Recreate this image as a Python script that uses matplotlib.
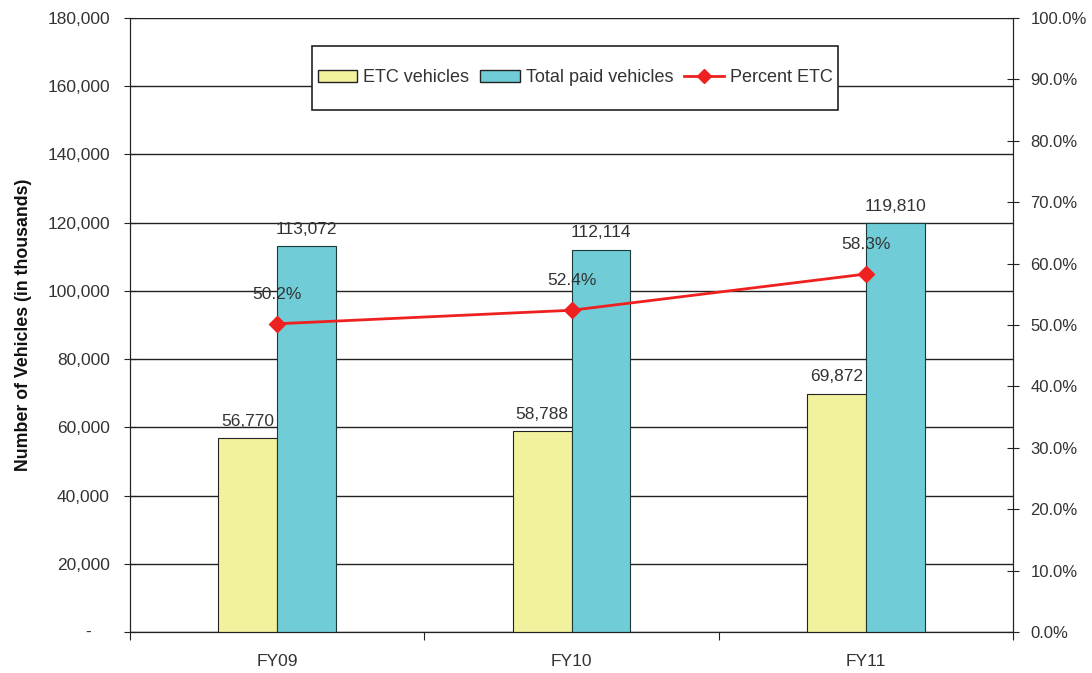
import matplotlib
matplotlib.use("Agg")
import matplotlib.pyplot as plt
from matplotlib.ticker import FuncFormatter, FixedLocator, NullFormatter
from matplotlib.patches import Patch, Rectangle
from matplotlib.lines import Line2D
import numpy as np

plt.rcParams['font.family'] = ['Liberation Sans', 'DejaVu Sans']

categories = ["FY09", "FY10", "FY11"]
etc_vehicles = [56770, 58788, 69872]
total_paid = [113072, 112114, 119810]
percent_etc = [50.2, 52.4, 58.3]

c_etc = "#F2F29E"
c_total = "#70CCD6"
c_line = "#EE2020"
txt = "#333333"

W, H = 1092, 673
fig = plt.figure(figsize=(W/100, H/100), dpi=100)
ax = fig.add_axes([130/W, 1-632/H, (1013-130)/W, (632-18)/H])
ax2 = ax.twinx()

x = np.arange(len(categories))
w = 0.2
b1 = ax.bar(x - w/2, etc_vehicles, w, color=c_etc, edgecolor="#222222", linewidth=0.8, zorder=3)
b2 = ax.bar(x + w/2, total_paid, w, color=c_total, edgecolor="#1a3a3a", linewidth=0.8, zorder=3)

for rect, v in list(zip(b1, etc_vehicles)) + list(zip(b2, total_paid)):
    ax.annotate(f"{v:,}", (rect.get_x() + rect.get_width()/2, v),
                xytext=(0, 7), textcoords="offset points", ha="center", va="bottom",
                fontsize=12.5, color=txt, zorder=4)

ax.set_xlim(-0.5, 2.5)
ax.set_ylim(0, 180000)
ax.set_yticks(np.arange(0, 180001, 20000))
ax.yaxis.set_major_formatter(FuncFormatter(lambda v, p: "" if v == 0 else f"{int(v):,}"))
ax.grid(axis="y", color="#222222", linewidth=1.0, zorder=0)
ax.set_axisbelow(True)
# accounting-style dash for zero
ax.text(88/W, 1-632/H, "-", transform=fig.transFigure, ha="center", va="center",
        fontsize=12.5, color=txt)

ax.xaxis.set_major_locator(FixedLocator([-0.5, 0.5, 1.5, 2.5]))
ax.xaxis.set_major_formatter(NullFormatter())
ax.set_xticks(list(x), minor=True)
ax.set_xticklabels(categories, minor=True)
ax.tick_params(axis="x", which="minor", length=0, pad=16, labelsize=12.5, labelcolor=txt)
ax.tick_params(axis="x", which="major", length=6, direction="out", color="#222222")
ax.tick_params(axis="y", direction="inout", length=9, labelsize=12.5, labelcolor=txt, pad=10, color="#222222")

for a in (ax, ax2):
    a.spines["top"].set_visible(False)
    for s in ["left", "bottom", "right"]:
        a.spines[s].set_color("#222222")

ax.set_ylabel("Number of Vehicles (in thousands)", fontsize=12.8, fontweight="bold",
              color="#111111", labelpad=11)

ax2.plot(x, percent_etc, color=c_line, linewidth=2, marker="D", markersize=8, zorder=5)
for xi, p in zip(x, percent_etc):
    ax2.annotate(f"{p:.1f}%", (xi, p), xytext=(0, 16), textcoords="offset points",
                 ha="center", va="bottom", fontsize=12.5, color=txt)
ax2.set_ylim(0, 100)
ax2.set_yticks(np.arange(0, 101, 10))
ax2.yaxis.set_major_formatter(FuncFormatter(lambda v, p: f"{v:.1f}%"))
ax2.tick_params(axis="y", direction="inout", length=9, labelsize=12, labelcolor=txt, pad=8, color="#222222")

# legend frame
frame = Rectangle((312/W, 1-110/H), (838-312)/W, 64/H, transform=fig.transFigure,
                  facecolor="white", edgecolor="#222222", linewidth=1.2, zorder=9)
fig.patches.append(frame)

handles = [Patch(facecolor=c_etc, edgecolor="#222222", linewidth=1),
           Patch(facecolor=c_total, edgecolor="#222222", linewidth=1),
           Line2D([], [], color=c_line, linewidth=2, marker="D", markersize=7)]
leg = fig.legend(handles, ["ETC vehicles", "Total paid vehicles", "Percent ETC"],
                 ncol=3, loc="center", bbox_to_anchor=(575/W, 1-78/H), fontsize=13,
                 frameon=False, borderpad=0, handlelength=2.2, handleheight=0.6,
                 handletextpad=0.33, columnspacing=0.6, labelcolor=txt)
leg.set_zorder(10)

fig.savefig("out.png", dpi=100)
